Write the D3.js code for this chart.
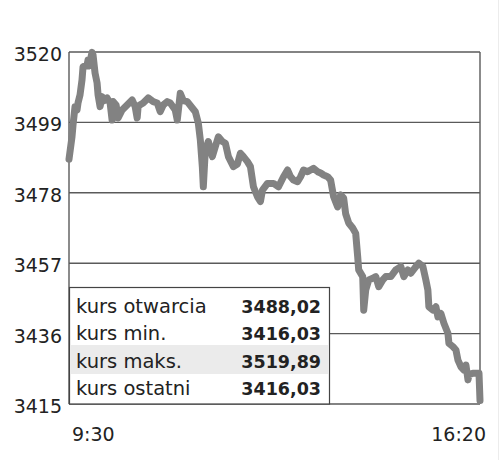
<!DOCTYPE html>
<html lang="pl">
<head>
    <meta charset="UTF-8">
    <title>Kurs</title>
    <script src="https://d3js.org/d3.v7.min.js"></script>
    <style>
        body { margin: 0; background: #fff; }
        svg { display: block; }
        .tick-label { font-family: "DejaVu Sans", sans-serif; font-size: 19px; fill: #222; }
        .leg-label { font-family: "DejaVu Sans", sans-serif; font-size: 19.5px; fill: #222; }
        .leg-value { font-family: "DejaVu Sans", sans-serif; font-size: 17.5px; font-weight: bold; fill: #222; }
    </style>
</head>
<body>
<svg id="chart" width="500" height="460"></svg>
<script>
    // minutes after 9:30 and index value
    const minutes = [0, 3, 4, 6, 8, 9, 11, 13, 14, 18, 19, 20, 23, 24, 26, 28, 29, 31, 33, 35,
        38, 41, 43, 44, 47, 49, 53, 58, 63, 66, 68, 69, 74, 79, 84, 88, 91, 94, 98, 101,
        106, 108, 111, 114, 118, 123, 126, 129, 131, 133, 134, 136, 139, 143, 146, 149, 153, 156, 159, 164,
        168, 171, 174, 178, 181, 184, 188, 191, 193, 198, 204, 209, 214, 218, 221, 224, 228, 231, 234, 238,
        241, 244, 248, 251, 254, 258, 261, 264, 268, 271, 274, 276, 279, 283, 286, 288, 289, 293, 294, 296,
        299, 303, 306, 309, 313, 316, 321, 326, 331, 334, 338, 341, 346, 349, 353, 356, 358, 359, 363, 366,
        368, 371, 374, 378, 379, 383, 386, 388, 391, 394, 396, 398, 399, 403, 409, 410];
    const values = [3488.02, 3494.7, 3498.2, 3503.7, 3502.7, 3504.8, 3507.2, 3511.7, 3515.6, 3516.1, 3517.6, 3515.8, 3519.89, 3519.1, 3513.7, 3510.8, 3507.2, 3503.7, 3506.7, 3505.5,
        3506.3, 3504.8, 3499.7, 3505.2, 3504.2, 3500.3, 3502.7, 3504.2, 3505.7, 3503.7, 3500.3, 3503.9, 3504.8, 3506.3, 3505.2, 3504.8, 3502.2, 3504.2, 3505.2, 3504.8,
        3502.7, 3499.7, 3507.7, 3505.5, 3505.2, 3503.3, 3502.2, 3498.8, 3493.8, 3485.8, 3479.8, 3490.8, 3493.3, 3488.8, 3491.8, 3494.7, 3493.3, 3492.8, 3488.8, 3485.8,
        3486.6, 3489.8, 3488.8, 3487.3, 3485.8, 3479.8, 3476.8, 3475.4, 3478.8, 3480.8, 3480.8, 3479.8, 3482.8, 3484.8, 3482.8, 3481.8, 3481.3, 3482.8, 3484.8, 3484.3,
        3484.8, 3485.3, 3484.3, 3483.9, 3483.3, 3482.8, 3481.8, 3476.8, 3473.8, 3477.4, 3476.4, 3471.7, 3469.0, 3467.5, 3465.9, 3458.9, 3455.0, 3453.0, 3443.0, 3449.0,
        3452.0, 3452.5, 3453.0, 3450.0, 3452.0, 3453.0, 3453.0, 3455.0, 3456.0, 3453.0, 3455.0, 3454.0, 3456.0, 3457.0, 3456.0, 3452.0, 3449.0, 3444.0, 3443.0, 3444.0,
        3441.0, 3442.0, 3439.1, 3436.1, 3433.1, 3432.1, 3431.1, 3428.1, 3426.1, 3425.1, 3426.6, 3422.2, 3423.7, 3424.2, 3424.2, 3416.03];

    const yTicks = [3415, 3436, 3457, 3478, 3499, 3520];
    const xTickLabels = ["9:30", "16:20"];

    const legendLabels = ["kurs otwarcia", "kurs min.", "kurs maks.", "kurs ostatni"];
    const legendValues = ["3488,02", "3416,03", "3519,89", "3416,03"];

    const svg = d3.select("#chart");
    const plotLeft = 69, plotRight = 480, plotTop = 52, plotBottom = 404;

    const x = d3.scaleLinear().domain([0, 410]).range([plotLeft, plotRight]);
    const y = d3.scaleLinear().domain([3415, 3520]).range([plotBottom, plotTop]);

    // faint border on the far right
    svg.append("line")
        .attr("x1", 498.5).attr("x2", 498.5)
        .attr("y1", 0).attr("y2", 460)
        .attr("stroke", "#ececec").attr("stroke-width", 1);

    // grid lines
    svg.append("g")
        .selectAll("line")
        .data(yTicks)
        .join("line")
        .attr("x1", plotLeft).attr("x2", plotRight)
        .attr("y1", d => y(d)).attr("y2", d => y(d))
        .attr("stroke", "#5a5a5a").attr("stroke-width", 1.4);

    svg.append("line")
        .attr("x1", plotLeft).attr("x2", plotLeft)
        .attr("y1", plotTop).attr("y2", plotBottom)
        .attr("stroke", "#5a5a5a").attr("stroke-width", 1.4);
    svg.append("line")
        .attr("x1", plotRight).attr("x2", plotRight)
        .attr("y1", plotTop).attr("y2", plotBottom)
        .attr("stroke", "#5a5a5a").attr("stroke-width", 1.4);

    // y labels
    svg.append("g")
        .selectAll("text")
        .data(yTicks)
        .join("text")
        .attr("class", "tick-label")
        .attr("x", 62)
        .attr("y", d => y(d) + 9)
        .attr("text-anchor", "end")
        .text(d => d);

    // x labels
    svg.append("text").attr("class", "tick-label")
        .attr("x", x(0) + 3).attr("y", 441)
        .text(xTickLabels[0]);
    svg.append("text").attr("class", "tick-label")
        .attr("x", x(410) + 6).attr("y", 441)
        .attr("text-anchor", "end")
        .text(xTickLabels[1]);

    // price line
    const data = minutes.map((m, i) => ({m, v: values[i]}));
    const line = d3.line().x(d => x(d.m)).y(d => y(d.v));
    svg.append("path")
        .datum(data)
        .attr("d", line)
        .attr("fill", "none")
        .attr("stroke", "#828282")
        .attr("stroke-width", 7)
        .attr("stroke-linejoin", "round")
        .attr("stroke-linecap", "round");

    // summary box
    const boxTop = 287, boxRight = 329, rowH = 27.3;
    const box = svg.append("g");
    box.append("rect")
        .attr("x", plotLeft + 0.5).attr("y", boxTop + 0.5)
        .attr("width", boxRight - plotLeft).attr("height", plotBottom - boxTop - 0.5)
        .attr("fill", "#fff").attr("stroke", "#444").attr("stroke-width", 1.2);
    box.append("rect")
        .attr("x", plotLeft + 2).attr("y", boxTop + 58)
        .attr("width", boxRight - plotLeft - 2).attr("height", 29)
        .attr("fill", "#ebebeb");

    box.selectAll("text.leg-label")
        .data(legendLabels)
        .join("text")
        .attr("class", "leg-label")
        .attr("x", 76)
        .attr("y", (d, i) => 313 + i * rowH)
        .text(d => d);

    box.selectAll("text.leg-value")
        .data(legendValues)
        .join("text")
        .attr("class", "leg-value")
        .attr("x", 321)
        .attr("y", (d, i) => 313 + i * rowH)
        .attr("text-anchor", "end")
        .text(d => d);
</script>
</body>
</html>
